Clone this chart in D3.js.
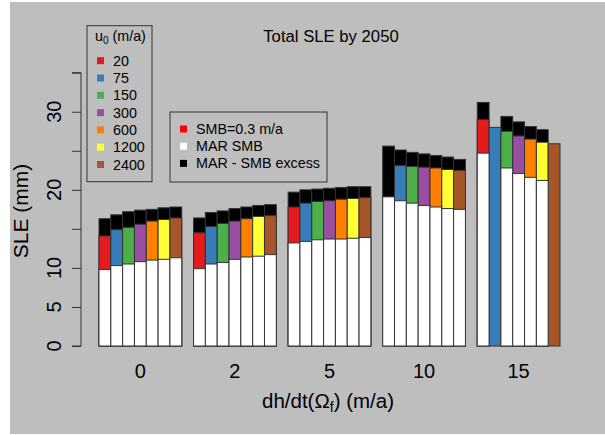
<!DOCTYPE html>
<html>
<head>
<meta charset="utf-8">
<script src="https://cdn.jsdelivr.net/npm/d3@7"></script>
<style>
  html, body { margin: 0; padding: 0; background: #ffffff; }
  svg { display: block; font-family: "Liberation Sans", Arial, sans-serif; }
</style>
</head>
<body>
<svg id="chart" width="605" height="435"></svg>
<script>
// Thinning rates of the floating area, one group of bars each
const groups = ["0", "2", "5", "10", "15"];
// Sliding speeds u0 (m/a), one bar each inside a group
const speeds = [20, 75, 150, 300, 600, 1200, 2400];
const speedColors = ["#E41A1C", "#377EB8", "#4DAF4A", "#984EA3", "#FF7F00", "#FFFF33", "#A65628"];

// SLE (mm) by 2050 with the MAR surface mass balance
const sleMar = [
  [9.8, 10.3, 10.5, 10.8, 11.0, 11.1, 11.3],
  [9.9, 10.5, 10.7, 11.1, 11.4, 11.5, 11.7],
  [13.2, 13.4, 13.6, 13.7, 13.7, 13.8, 13.9],
  [19.1, 18.6, 18.3, 18.0, 17.8, 17.6, 17.5],
  [24.7, null, 22.8, 22.1, 21.6, 21.2, null]
];
// SLE (mm) by 2050 with SMB = 0.3 m/a
const sleSmb03 = [
  [14.1, 14.9, 15.2, 15.6, 16.0, 16.2, 16.4],
  [14.5, 15.3, 15.7, 16.0, 16.3, 16.6, 16.7],
  [17.8, 18.3, 18.5, 18.6, 18.8, 18.9, 19.0],
  [null, 23.1, 23.0, 22.9, 22.8, 22.6, 22.5],
  [29.0, 28.0, 27.5, 26.9, 26.5, 26.1, 25.9]
];
// SLE (mm) by 2050 for MAR plus the SMB excess
const sleExcess = [
  [16.3, 16.8, 17.2, 17.4, 17.5, 17.7, 17.8],
  [16.4, 17.1, 17.3, 17.6, 17.8, 18.0, 18.1],
  [19.7, 20.0, 20.1, 20.2, 20.3, 20.4, 20.4],
  [25.6, 25.1, 24.8, 24.6, 24.4, 24.2, 23.9],
  [31.2, null, 29.4, 28.7, 28.1, 27.7, null]
];
const yTicks = [0, 5, 10, 15, 20, 25, 30, 35];
const yTickLabels = ["0", "5", "10", "", "20", "", "30", ""];
const scenarioLabels = ["SMB=0.3 m/a", "MAR SMB", "MAR - SMB excess"];
const scenarioColors = ["#FF0000", "#FFFFFF", "#000000"];

const svg = d3.select("#chart");
const edge = "#333333";

// plot background
svg.append("rect").attr("x", 10).attr("y", 2).attr("width", 595).attr("height", 432)
  .attr("fill", "#BEBEBE");

const y = d3.scaleLinear().domain([0, 35]).range([346, 72.7]);
const xGroup = d3.scaleBand().domain(groups).range([99, 560])
  .paddingInner(0.125).paddingOuter(0);
const xBar = d3.scaleBand().domain(d3.range(speeds.length))
  .range([0, xGroup.bandwidth()]).padding(0);

// bars: excess (black) behind, SMB=0.3 (colour) in the middle, MAR (white) in front
const layers = [
  { values: sleExcess, color: () => "#000000" },
  { values: sleSmb03, color: (j) => speedColors[j] },
  { values: sleMar, color: () => "#FFFFFF" }
];
layers.forEach(layer => {
  const cells = [];
  groups.forEach((g, i) => speeds.forEach((s, j) => {
    const v = layer.values[i][j];
    if (v != null) cells.push({ g, j, v });
  }));
  svg.append("g").selectAll("rect").data(cells).join("rect")
    .attr("x", d => xGroup(d.g) + xBar(d.j))
    .attr("y", d => y(d.v))
    .attr("width", xBar.bandwidth())
    .attr("height", d => y(0) - y(d.v))
    .attr("fill", d => layer.color(d.j))
    .attr("stroke", edge)
    .attr("stroke-width", 1);
});

// y axis
const yAxis = svg.append("g").attr("transform", "translate(81,0)")
  .call(d3.axisLeft(y).tickValues(yTicks).tickSize(9).tickFormat(""));
yAxis.select(".domain").attr("stroke", edge).attr("d", `M-9,${y(35)}H0V${y(0)}H-9`);
yAxis.selectAll(".tick line").attr("stroke", edge);
yTicks.forEach((t, i) => {
  if (!yTickLabels[i]) return;
  svg.append("text")
    .attr("transform", `translate(61,${y(t)}) rotate(-90)`)
    .attr("text-anchor", "middle")
    .attr("font-size", 20).attr("fill", "#000")
    .text(yTickLabels[i]);
});

// group labels
svg.append("g").selectAll("text").data(groups).join("text")
  .attr("x", d => xGroup(d) + xGroup.bandwidth() / 2)
  .attr("y", 378)
  .attr("text-anchor", "middle")
  .attr("font-size", 20)
  .text(d => d);

// axis titles and main title
const xt = svg.append("text").attr("x", 328).attr("y", 408)
  .attr("text-anchor", "middle").attr("font-size", 20.5);
xt.append("tspan").text("dh/dt(Ω");
xt.append("tspan").attr("font-size", 14).attr("dy", 4).text("f");
xt.append("tspan").attr("dy", -4).text(") (m/a)");

svg.append("text").attr("transform", "translate(28,211) rotate(-90)")
  .attr("text-anchor", "middle").attr("font-size", 21).text("SLE (mm)");

svg.append("text").attr("x", 331).attr("y", 42)
  .attr("text-anchor", "middle").attr("font-size", 16.7).text("Total SLE by 2050");

// legend: sliding speed
const leg1 = svg.append("g");
leg1.append("rect").attr("x", 87).attr("y", 25.7).attr("width", 65).attr("height", 156)
  .attr("fill", "none").attr("stroke", edge);
const lt = leg1.append("text").attr("x", 95).attr("y", 41).attr("font-size", 14.3);
lt.append("tspan").text("u");
lt.append("tspan").attr("font-size", 10).attr("dy", 3).text("0");
lt.append("tspan").attr("dy", -3).text(" (m/a)");
const rowY1 = d3.scaleLinear().domain([0, 1]).range([60.7, 78]);
leg1.selectAll("rect.key").data(speeds).join("rect").attr("class", "key")
  .attr("x", 97).attr("y", (d, i) => rowY1(i) - 3.5)
  .attr("width", 7).attr("height", 7)
  .attr("fill", (d, i) => speedColors[i]);
leg1.selectAll("text.lab").data(speeds).join("text").attr("class", "lab")
  .attr("x", 113).attr("y", (d, i) => rowY1(i) + 5)
  .attr("font-size", 14.3).text(d => d);

// legend: SMB scenario
const leg2 = svg.append("g");
leg2.append("rect").attr("x", 170).attr("y", 112).attr("width", 157).attr("height", 70)
  .attr("fill", "none").attr("stroke", edge);
const rowY2 = d3.scaleLinear().domain([0, 1]).range([129, 146.2]);
leg2.selectAll("rect.key").data(scenarioLabels).join("rect").attr("class", "key")
  .attr("x", 180).attr("y", (d, i) => rowY2(i) - 3.5)
  .attr("width", 7).attr("height", 7)
  .attr("fill", (d, i) => scenarioColors[i]);
leg2.selectAll("text.lab").data(scenarioLabels).join("text").attr("class", "lab")
  .attr("x", 196).attr("y", (d, i) => rowY2(i) + 5)
  .attr("font-size", 14.3).text(d => d);
</script>
</body>
</html>
